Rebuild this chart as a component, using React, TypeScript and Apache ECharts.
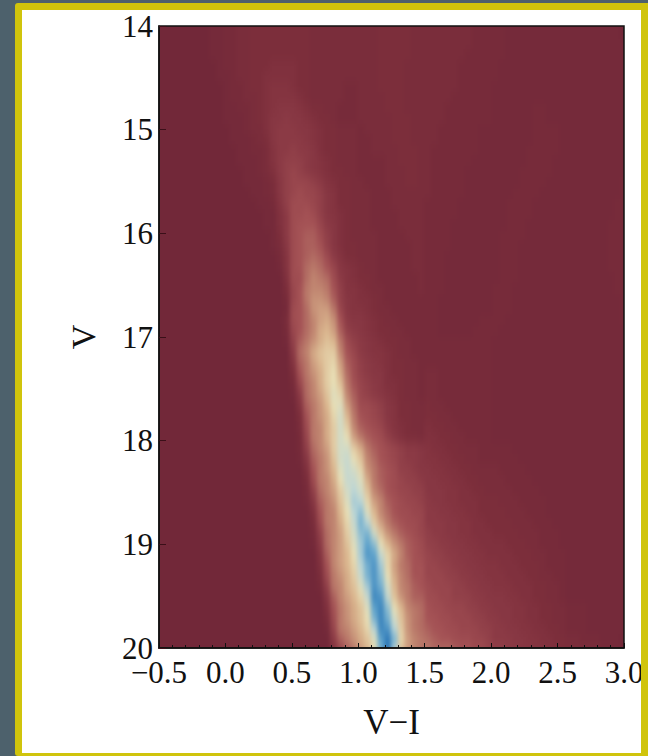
import React, { useEffect, useRef } from "react";
import * as echarts from "echarts";

const colorLeft = -0.5;
const colorRight = 3;
const magTop = 14;
const magBottom = 20;
const colorStep = 0.05;
const magStep = 0.1;
const xTicks = ["\u22120.5", "0.0", "0.5", "1.0", "1.5", "2.0", "2.5", "3.0"];
const levelColors = ["#722839", "#7c2e3b", "#8b3a45", "#a45255", "#c08570", "#dbb78f", "#e8dfb6", "#bcd6d6", "#5ea3cc", "#1c68ae"];

// One string per 0.1 mag row, one base-36 density level per 0.05 colour column.
const densityRows = [
  "0000000011 2233444444 4443333333 3334444433 3333333222 2211111111 1111111110",
  "0000000011 2233444444 4443333333 3334444433 3333333222 2211111111 1111111110",
  "0000000011 2233444444 4443333333 3334444433 3333333222 2211111111 1111111111",
  "0000000011 2233444444 4443333333 3334444433 3333332222 2211111111 1111111111",
  "0000000001 2233444555 5443333333 3334444333 3333322222 2111111111 1111111111",
  "0000000001 1233445555 5443333333 3334444333 3333322222 2111111111 1111111111",
  "0000000000 1223445666 5443333322 3334444333 3333322222 1111111111 1111111111",
  "0000000000 1223345666 6543333322 3333444333 3333222222 1111111111 1111111111",
  "0000000000 1122345677 7654433222 3333444333 3332222222 1111112211 1111111111",
  "0000000000 1112345778 7765443222 3333344433 3332222222 1111112211 1111111111",
  "0000000000 0112335788 8776544333 2333344433 3322222211 1111112222 1111111111",
  "0000000000 0111234788 8876544333 2233344433 3322222211 1111112222 1111111111",
  "0000000000 0011223688 9887544333 2233334443 3222222211 1111122222 1111111111",
  "0000000000 0011123689 9987654333 2222334443 3222222111 1111122221 1111111111",
  "0000000000 0001123589 a987654433 2222333443 3222221111 1111222221 1111111111",
  "0000000000 0001112379 aaa9865443 3222333443 3222221111 1111222211 1111111112",
  "0000000000 0000112379 abaa976443 3322233333 3222221111 1112222111 1111111112",
  "0000000000 0000011269 bbba976443 3322233333 2222211111 1122221111 1111111122",
  "0000000000 0000001158 bbcb976543 3322223333 2222211111 1122221111 1111111122",
  "0000000000 0000001158 bccca87543 3322223333 2222111111 1122211111 1111111222",
  "0000000000 0000000148 bcddb97543 3332222333 2222111111 1222211111 1111111222",
  "0000000000 0000000137 bcddc97544 3332222233 2222111111 1222111111 1111111222",
  "0000000000 0000000026 bcdedb8644 3332222233 2221111111 1222111111 1111111222",
  "0000000000 0000000016 bcefeca765 4332222233 2221111111 1222111111 1111111222",
  "0000000000 0000000005 bbegfeb865 4432222223 2221111111 1222111111 1111111122",
  "0000000000 0000000004 acfggfc966 5433222223 2221111111 2221111111 1111111122",
  "0000000000 0000000002 acfhhgd976 5543222222 2211111111 2221111111 1111111112",
  "0000000000 0000000001 bcehiifa76 6543322222 2211111111 2221111111 1111111112",
  "0000000000 0000000003 bcegijhc87 7654332222 2211111122 2211111111 1111111112",
  "0000000000 0000000002 acegjkid98 7654433222 2211111222 2111111111 1111111111",
  "0000000000 0000000001 9dfhjlkfb9 8765443322 2222222222 1111111111 1111111111",
  "0000000000 0000000000 8egjlmmgca 8766543322 2222222222 1111111111 1111111111",
  "0000000000 0000000000 6dfikmnidb 9876544332 2222222222 1111111111 1111111111",
  "0000000000 0000000000 4cfhjmojeb 9877544332 3322222222 1111111111 1111111111",
  "0000000000 0000000000 2aegjmolfc a987554332 3322222222 1111111111 1111111111",
  "0000000000 0000000000 18egilpngd a987654332 3322222222 1111111111 1111111111",
  "0000000000 0000000000 06dfhkopie bba9764433 4332222222 1111111111 1111111111",
  "0000000000 0000000000 04cfhjnqkf cba9764433 4433222222 1111111111 1111111111",
  "0000000000 0000000000 03bfgjmqmg dcba865433 5443322222 1111111111 1111111111",
  "0000000000 0000000000 02afgjmqoi fdcb975443 5544332222 1111111111 1111111111",
  "0000000000 0000000000 029egimqqm jfdcba9887 6554433322 2221111111 1111111111",
  "0000000000 0000000000 017dfhlqro lgecba9887 6655443322 2222111111 1111111111",
  "0000000000 0000000000 005cfhkprq nhfdcb9987 7665544333 3222211111 1111111111",
  "0000000000 0000000000 003bfgjorr pjfdcba998 7766554433 3322221111 1111111111",
  "0000000000 0000000000 0029egimqs qlgecbaa99 7776655443 3332222111 1111111111",
  "0000000000 0000000000 0017dfhlpt snigdcbaa9 8776655544 4333222211 1111111111",
  "0000000000 0000000000 0005cfgkos upkgecbbaa 8877665544 4433322211 1111111111",
  "0000000000 0000000000 0003bfgjnr vsmifdcbba 8887766554 4443332221 1111111111",
  "0000000000 0000000000 00029egimq uvqlhfdcba 9887766555 4444333222 1111111111",
  "0000000000 0000000000 00018egilp twuokhfdcb 9988776655 5544433222 1111111111",
  "0000000000 0000000000 00006dgiko txwrnjgdcb a998877665 5554443322 2111111111",
  "0000000000 0000000000 00005cgikn svxtnifecc aa99887766 6555444322 2111111111",
  "0000000000 0000000000 00003bfhjm rvxuojgecc aaa9988776 6655544332 2111111111",
  "0000000000 0000000000 000029fgjl ptxvqkgfdc baaa998877 6665554433 2111111111",
  "0000000000 0000000000 000007dgik nryxrlhfdd bbaa999887 7766554433 2111111111",
  "0000000000 0000000000 000005cfhj lpwyuokgfe cbbaaa9988 7776655443 3222111111",
  "0000000000 0000000000 000003bfhj lovyvqlhfe ccbbaaa998 8776655443 3222111111",
  "0000000000 0000000000 000001afgi knsyxsmhfe dccbbaaa99 8877665544 3222111111",
  "0000000000 0000000000 0000008dfh jlpwzvnigf edccbbbaa9 8887766554 4332221110",
  "0000000000 0000000000 0000006adf ikovzsligf feeedccbba 9988776655 4443332211",
];

const densityCells: number[][] = [];
densityRows.forEach((row, j) => {
  row.replace(/ /g, "").split("").forEach((ch, i) => {
    densityCells.push([colorLeft + i * colorStep, magTop + j * magStep, parseInt(ch, 36)]);
  });
});

const grid = { left: 159, top: 26, width: 465, height: 622 };
const serif = "'Liberation Serif', 'Times New Roman', serif";
const ink = "#111";

const heatOption = () => ({
  animation: false,
  grid: { ...grid, show: false },
  xAxis: { type: "value", min: colorLeft, max: colorRight, show: false },
  yAxis: { type: "value", min: magTop, max: magBottom, inverse: true, show: false },
  visualMap: { show: false, min: 0, max: 36, dimension: 2, seriesIndex: 0, inRange: { color: levelColors } },
  series: [
    {
      type: "custom",
      coordinateSystem: "cartesian2d",
      silent: true,
      encode: { x: 0, y: 1 },
      data: densityCells,
      renderItem: (_p: any, api: any) => {
        const a = api.coord([api.value(0), api.value(1)]);
        const b = api.coord([api.value(0) + colorStep, api.value(1) + magStep]);
        return {
          type: "rect",
          shape: { x: a[0] - 0.5, y: a[1] - 0.5, width: b[0] - a[0] + 1, height: b[1] - a[1] + 1 },
          style: { fill: api.visual("color") },
        };
      },
    },
  ],
});

const axisOption = () => ({
  animation: false,
  grid: { ...grid, show: true, z: 10, backgroundColor: "transparent", borderColor: ink, borderWidth: 1.5 },
  xAxis: {
    type: "value",
    min: colorLeft,
    max: colorRight,
    interval: 0.5,
    z: 10,
    name: "V\u2212I",
    nameLocation: "middle",
    nameGap: 57,
    nameTextStyle: { fontFamily: serif, fontSize: 35, color: ink },
    splitLine: { show: false },
    axisLine: { onZero: false, lineStyle: { color: ink, width: 1.5 } },
    axisTick: { inside: true, length: 5, lineStyle: { color: ink, width: 1 } },
    minorTick: { show: true, splitNumber: 5, length: 3, lineStyle: { color: ink, width: 1 } },
    axisLabel: {
      margin: 9,
      fontFamily: serif,
      fontSize: 31,
      color: ink,
      hideOverlap: false,
      showMinLabel: true,
      showMaxLabel: true,
      formatter: (_v: number, idx: number) => xTicks[idx],
    },
  },
  yAxis: {
    type: "value",
    min: magTop,
    max: magBottom,
    interval: 1,
    inverse: true,
    z: 10,
    name: "V",
    nameLocation: "middle",
    nameGap: 59,
    nameTextStyle: { fontFamily: serif, fontSize: 34, color: ink },
    splitLine: { show: false },
    axisLine: { onZero: false, lineStyle: { color: ink, width: 1.5 } },
    axisTick: { inside: true, length: 7, lineStyle: { color: "#3a0f18", width: 1 } },
    axisLabel: { margin: 6, fontFamily: serif, fontSize: 31, color: ink, hideOverlap: false },
  },
  series: [],
});

export default function App() {
  const heatRef = useRef<HTMLDivElement>(null);
  const axisRef = useRef<HTMLDivElement>(null);
  useEffect(() => {
    document.body.style.margin = "0";
    const heat = echarts.init(heatRef.current!, null, { renderer: "svg" });
    const axis = echarts.init(axisRef.current!, null, { renderer: "svg" });
    heat.setOption(heatOption() as any);
    axis.setOption(axisOption() as any);
    return () => {
      heat.dispose();
      axis.dispose();
    };
  }, []);
  return (
    <div style={{ position: "fixed", left: 0, top: 0, width: 648, height: 756, overflow: "hidden", background: "#4d616c" }}>
      <svg width="0" height="0" style={{ position: "absolute" }}>
        <filter id="soft" x="-10%" y="-10%" width="120%" height="120%" colorInterpolationFilters="sRGB">
          <feGaussianBlur stdDeviation="2 5" />
        </filter>
      </svg>
      <div style={{ position: "absolute", left: 15, top: 3, width: 640, height: 753, background: "#d0c40c", borderRadius: 3 }} />
      <div style={{ position: "absolute", left: 22, top: 10, width: 619, height: 743, background: "#fff", overflow: "hidden" }}>
        <div style={{ position: "absolute", left: grid.left - 22, top: grid.top - 10, width: grid.width, height: grid.height, overflow: "hidden", background: levelColors[0] }}>
          <div
            ref={heatRef}
            style={{
              position: "absolute",
              left: -grid.left,
              top: -grid.top,
              width: 648,
              height: 756,
              filter: "url(#soft)",
              transform: "scale(1.015, 1.025)",
              transformOrigin: `${grid.left + grid.width / 2}px ${grid.top + grid.height / 2}px`,
            }}
          />
        </div>
        <div ref={axisRef} style={{ position: "absolute", left: -22, top: -10, width: 648, height: 756 }} />
      </div>
    </div>
  );
}
